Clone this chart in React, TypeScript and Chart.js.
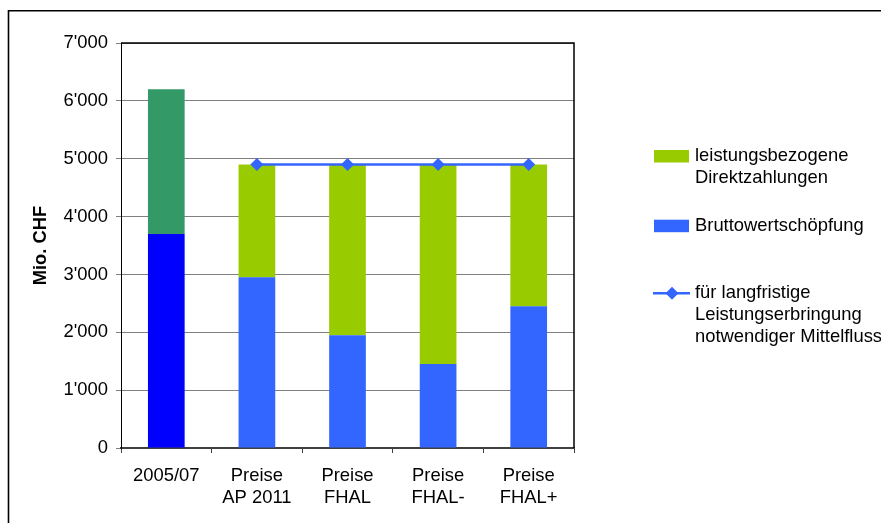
import React, { useEffect, useRef } from 'react';
import { Chart, registerables } from 'chart.js';

Chart.register(...registerables);

const categories: string[][] = [['2005/07'], ['Preise', 'AP 2011'], ['Preise', 'FHAL'], ['Preise', 'FHAL-'], ['Preise', 'FHAL+']];
const bruttowertschoepfung = [3700, 2950, 1950, 1450, 2450];
const direktzahlungen = [2500, 1950, 2950, 3450, 2450];
const mittelfluss: (number | null)[] = [null, 4900, 4900, 4900, 4900];
const yTicks = [0, 1000, 2000, 3000, 4000, 5000, 6000, 7000];
const yTitle = 'Mio. CHF';
const labelDirekt = ['leistungsbezogene', 'Direktzahlungen'];
const labelBrutto = ['Bruttowertschöpfung'];
const labelMittel = ['für langfristige', 'Leistungserbringung', 'notwendiger Mittelfluss'];

const GREEN = '#99CC00';
const GREEN_FIRST = '#339966';
const BLUE = '#3366FF';
const BLUE_FIRST = '#0000FF';
const LINE = '#3366FF';
const FONT = "'Liberation Sans', Arial, sans-serif";
const FS = 18.4;

const fmt = (v: number) => {
  if (v === 0) return '0';
  const s = String(v);
  return s.replace(/\B(?=(\d{3})+(?!\d))/g, "'");
};

const decoPlugin = {
  id: 'deco',
  afterDraw(chart: any) {
    const ctx = chart.ctx as CanvasRenderingContext2D;
    const { left, right, top, bottom } = chart.chartArea;
    ctx.save();
    // outer frame
    ctx.strokeStyle = '#000';
    ctx.lineWidth = 1.6;
    ctx.beginPath();
    ctx.moveTo(8.5, chart.height + 5);
    ctx.lineTo(8.5, 10.7);
    ctx.lineTo(chart.width + 5, 10.7);
    ctx.stroke();
    // plot top & right border
    ctx.lineWidth = 1.5;
    ctx.beginPath();
    ctx.moveTo(left, top);
    ctx.lineTo(right, top);
    ctx.lineTo(right, bottom);
    ctx.stroke();

    // legend
    ctx.font = `${FS}px ${FONT}`;
    ctx.textBaseline = 'middle';
    ctx.textAlign = 'left';
    ctx.fillStyle = '#000';
    const lh = 21.7;
    const boxX = 654;
    const boxW = 35;
    const textX = 695;
    const ds = chart.data.datasets;
    const items = [
      { kind: 'box', color: ds[1].legendColor, lines: ds[1].legendLines, y: 156 },
      { kind: 'box', color: ds[0].legendColor, lines: ds[0].legendLines, y: 225.7 },
      { kind: 'line', color: ds[2].borderColor, lines: ds[2].legendLines, y: 293.3 },
    ];
    for (const it of items) {
      if (it.kind === 'box') {
        ctx.fillStyle = it.color;
        ctx.fillRect(boxX, it.y - 6, boxW, 12.5);
      } else {
        ctx.strokeStyle = it.color;
        ctx.lineWidth = 2.5;
        ctx.beginPath();
        ctx.moveTo(boxX - 1, it.y);
        ctx.lineTo(boxX + boxW + 1, it.y);
        ctx.stroke();
        ctx.fillStyle = it.color;
        const cx = boxX + boxW / 2 + 0.5;
        const r = 6.5;
        ctx.beginPath();
        ctx.moveTo(cx, it.y - r);
        ctx.lineTo(cx + r, it.y);
        ctx.lineTo(cx, it.y + r);
        ctx.lineTo(cx - r, it.y);
        ctx.closePath();
        ctx.fill();
      }
      ctx.fillStyle = '#000';
      it.lines.forEach((t: string, i: number) => {
        ctx.fillText(t, textX, it.y + i * lh);
      });
    }
    ctx.restore();
  },
};

export default function App() {
  const ref = useRef<HTMLCanvasElement>(null);
  useEffect(() => {
    if (!ref.current) return;
    Chart.defaults.font.family = FONT;
    Chart.defaults.font.size = FS;
    Chart.defaults.color = '#000';
    const chart = new Chart(ref.current, {
      type: 'bar',
      data: {
        labels: categories,
        datasets: [
          {
            type: 'bar',
            label: labelBrutto.join(' '),
            data: bruttowertschoepfung,
            backgroundColor: bruttowertschoepfung.map((_, i) => (i === 0 ? BLUE_FIRST : BLUE)),
            stack: 'bars',
            order: 1,
            barPercentage: 0.405,
            categoryPercentage: 1,
            legendColor: BLUE,
            legendLines: labelBrutto,
          } as any,
          {
            type: 'bar',
            label: labelDirekt.join(' '),
            data: direktzahlungen,
            backgroundColor: direktzahlungen.map((_, i) => (i === 0 ? GREEN_FIRST : GREEN)),
            stack: 'bars',
            order: 1,
            barPercentage: 0.405,
            categoryPercentage: 1,
            legendColor: GREEN,
            legendLines: labelDirekt,
          } as any,
          {
            type: 'line',
            label: labelMittel.join(' '),
            data: mittelfluss,
            borderColor: LINE,
            backgroundColor: LINE,
            borderWidth: 2.5,
            pointStyle: 'rectRot',
            pointRadius: 6.5,
            pointBorderWidth: 0,
            stack: 'line',
            order: 0,
            spanGaps: false,
            legendLines: labelMittel,
          } as any,
        ],
      },
      options: {
        animation: false,
        responsive: true,
        maintainAspectRatio: false,
        layout: { padding: { left: 0, right: 307, top: 43, bottom: 0 } },
        plugins: {
          legend: { display: false },
          tooltip: { enabled: false },
        },
        scales: {
          x: {
            stacked: true,
            offset: true,
            grid: {
              offset: true,
              drawOnChartArea: false,
              drawTicks: true,
              tickLength: 5,
              color: '#404040',
              lineWidth: 1,
            },
            border: { display: true, color: '#404040', width: 2 },
            ticks: { padding: 12, font: { size: FS, lineHeight: 1.2 }, color: '#000', maxRotation: 0, autoSkip: false },
            afterFit: (s: any) => {
              s.height = 75;
            },
          },
          y: {
            stacked: true,
            min: 0,
            max: 7000,
            afterBuildTicks: (s: any) => {
              s.ticks = yTicks.map((v) => ({ value: v }));
            },
            grid: { color: '#808080', lineWidth: 1, tickLength: 5, drawTicks: true },
            border: { display: true, color: '#000', width: 1 },
            ticks: {
              padding: 8,
              font: { size: FS },
              color: '#000',
              callback: (v: any) => fmt(Number(v)),
            },
            title: {
              display: true,
              text: yTitle,
              font: { size: FS, weight: 'bold' },
              color: '#000',
              padding: { top: 30, bottom: 0 },
            },
            afterFit: (s: any) => {
              s.width = 121;
            },
          },
        },
      },
      plugins: [decoPlugin],
    });
    return () => chart.destroy();
  }, []);
  return (
    <div style={{ position: 'absolute', left: 0, top: 0, width: 881, height: 523 }}>
      <canvas ref={ref} />
    </div>
  );
}
